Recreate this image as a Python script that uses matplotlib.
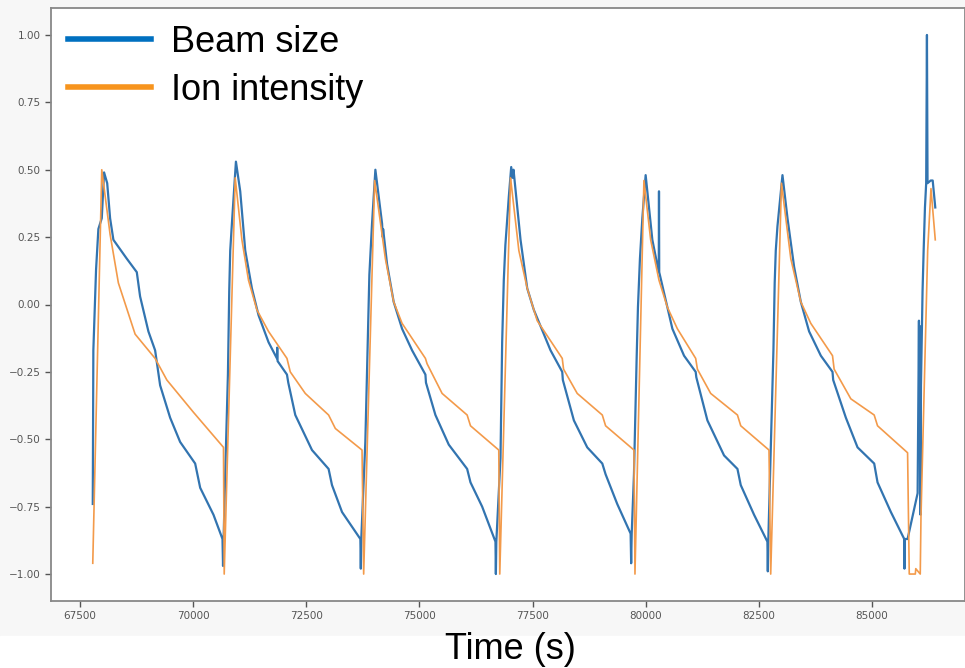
import matplotlib
matplotlib.use('Agg')
import matplotlib.pyplot as plt
from matplotlib.lines import Line2D
from matplotlib.patches import Rectangle

# Beam size (normalised)
beam_t = [67781, 67794, 67854, 67905, 67980, 68031, 68100, 68164, 68237, 68533,
          68754, 68827, 69011, 69159, 69270, 69491, 69712, 70044, 70155, 70449,
          70648, 70660, 70672,
          70708, 70768, 70797, 70819, 70856, 70945, 71040, 71151, 71298, 71445,
          71666, 71851, 71858, 71866, 72073, 72102, 72257, 72626, 72993, 73068,
          73290, 73695, 73705, 73715,
          73805, 73865, 73894, 73953, 74027, 74175, 74190, 74198, 74285, 74431,
          74617, 74838, 75133, 75145, 75354, 75649, 76055, 76129, 76387, 76681,
          76690, 76700,
          76792, 76829, 76865, 76900, 76976, 77029, 77060, 77080, 77235, 77383,
          77529, 77898, 78157, 78170, 78414, 78709, 79042, 79115, 79372, 79668,
          79680, 79692,
          79742, 79801, 79830, 79874, 79927, 80000, 80148, 80290, 80295, 80300,
          80480, 80591, 80849, 81106, 81120, 81365, 81733, 82029, 82102, 82396,
          82691, 82700, 82710,
          82764, 82824, 82852, 82876, 82913, 83024, 83135, 83281, 83429, 83613,
          83872, 84130, 84145, 84425, 84683, 85051, 85125, 85420, 85715, 85720,
          85730, 85789, 86011, 86040, 86050, 86060, 86075, 86085, 86120, 86144,
          86173, 86200, 86217, 86230, 86300, 86344, 86401]
beam_v = [-0.74, -0.17, 0.13, 0.28, 0.32, 0.49, 0.45, 0.32, 0.24, 0.17,
          0.12, 0.03, -0.10, -0.17, -0.30, -0.42, -0.51, -0.59, -0.68, -0.78,
          -0.87, -0.97, -0.87,
          -0.63, -0.26, 0.05, 0.20, 0.30, 0.53, 0.42, 0.20, 0.06, -0.04,
          -0.14, -0.20, -0.16, -0.21, -0.26, -0.29, -0.41, -0.54, -0.61, -0.67,
          -0.77, -0.87, -0.98, -0.87,
          -0.51, -0.09, 0.11, 0.30, 0.50, 0.30, 0.25, 0.28, 0.15, 0.01,
          -0.09, -0.17, -0.26, -0.29, -0.41, -0.52, -0.61, -0.66, -0.75, -0.88,
          -1.00, -0.88,
          -0.57, -0.14, 0.09, 0.22, 0.40, 0.51, 0.47, 0.50, 0.24, 0.06,
          -0.02, -0.17, -0.25, -0.28, -0.43, -0.53, -0.59, -0.63, -0.74, -0.85,
          -0.96, -0.85,
          -0.63, -0.20, -0.01, 0.17, 0.32, 0.48, 0.24, 0.12, 0.42, 0.12,
          -0.01, -0.09, -0.19, -0.25, -0.27, -0.43, -0.56, -0.61, -0.67, -0.78,
          -0.88, -0.99, -0.88,
          -0.54, -0.17, 0.08, 0.20, 0.29, 0.48, 0.32, 0.14, 0.01, -0.10,
          -0.19, -0.25, -0.28, -0.42, -0.53, -0.59, -0.66, -0.77, -0.87, -0.98,
          -0.87, -0.87, -0.70, -0.06, -0.53, -0.08, -0.78, -0.30, 0.05, 0.20,
          0.36, 0.45, 1.00, 0.45, 0.46, 0.46, 0.36]

# Ion intensity (normalised)
ion_t = [67781, 67980, 68164, 68347, 68717, 69159, 69418, 70007, 70670, 70686,
         70929, 71077, 71223, 71409, 71666, 72073, 72146, 72478, 72993, 73142,
         73732, 73768,
         74011, 74248, 74431, 74617, 75133, 75170, 75502, 76055, 76129, 76754,
         76776,
         77014, 77198, 77383, 77603, 78157, 78186, 78488, 79042, 79115, 79742,
         79764,
         79962, 80111, 80295, 80480, 80701, 81106, 81144, 81438, 82029, 82102,
         82726, 82764,
         83002, 83208, 83429, 83650, 84130, 84166, 84535, 85051, 85125, 85789,
         85826, 85960, 85970, 86069, 86085, 86158, 86233, 86306, 86401]
ion_v = [-0.96, 0.50, 0.26, 0.08, -0.11, -0.20, -0.28, -0.40, -0.53, -1.00,
         0.47, 0.24, 0.09, -0.02, -0.10, -0.20, -0.25, -0.33, -0.41, -0.46,
         -0.54, -1.00,
         0.46, 0.17, 0.01, -0.07, -0.20, -0.22, -0.33, -0.41, -0.45, -0.54,
         -1.00,
         0.47, 0.20, 0.06, -0.06, -0.20, -0.24, -0.33, -0.41, -0.45, -0.54,
         -1.00,
         0.46, 0.24, 0.09, -0.01, -0.09, -0.20, -0.24, -0.33, -0.41, -0.45,
         -0.54, -1.00,
         0.45, 0.17, 0.01, -0.07, -0.19, -0.24, -0.35, -0.41, -0.45, -0.55,
         -1.00, -1.00, -0.98, -1.00, -0.79, -0.30, 0.20, 0.43, 0.24]

xticks = [67500, 70000, 72500, 75000, 77500, 80000, 82500, 85000]
yticks = [-1.0, -0.75, -0.5, -0.25, 0.0, 0.25, 0.5, 0.75, 1.0]

fig = plt.figure(figsize=(9.65, 6.68), dpi=100, facecolor='#f7f7f7')
fig.patches.append(Rectangle((0, 0), 1, 32 / 668, transform=fig.transFigure,
                             color='white', zorder=0))
ax = fig.add_axes([51 / 965, 67 / 668, 1 - 51 / 965, 593 / 668])

ax.plot(beam_t, beam_v, color='#3274b0', lw=1.6)
ax.plot(ion_t, ion_v, color='#f39a4a', lw=1.2)

ax.set_xlim(66858, 87058)
ax.set_ylim(-1.1, 1.1)
ax.set_xticks(xticks)
ax.set_yticks(yticks)
ax.tick_params(labelsize=7.5, colors='#555555', length=4, width=1)
for s in ax.spines.values():
    s.set_color('#888888')
    s.set_linewidth(1.3)

handles = [Line2D([], [], color='#0070c0', lw=4),
           Line2D([], [], color='#f7941d', lw=4)]
fig.legend(handles, ['Beam size', 'Ion intensity'], loc='upper left',
           bbox_to_anchor=(68 / 965, 1 - 25 / 668), frameon=False,
           prop={'family': 'Liberation Sans', 'size': 26},
           handlelength=2.3, handletextpad=0.55, labelspacing=0.36,
           borderpad=0, borderaxespad=0)

fig.text(510 / 965, 9 / 668, 'Time (s)', ha='center', va='baseline',
         fontsize=26, family='Liberation Sans')

fig.savefig('out.png', dpi=100, facecolor=fig.get_facecolor())
